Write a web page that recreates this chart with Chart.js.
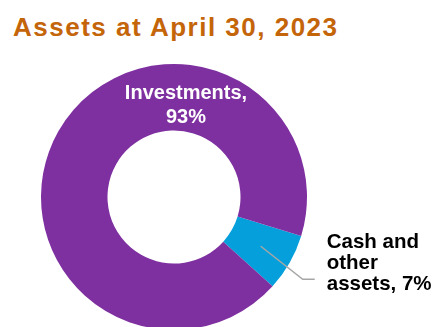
<!DOCTYPE html>
<html>
<head>
<meta charset="utf-8">
<script src="https://cdn.jsdelivr.net/npm/chart.js@4"></script>
<style>
  html, body { margin: 0; padding: 0; background: #fff; overflow: hidden; width: 434px; height: 327px; }
  #title { position: absolute; left: 13px; top: 14px; font: bold 26px "Liberation Sans", Arial, sans-serif; line-height: 26px; letter-spacing: 1.5px; color: #C4650A; white-space: nowrap; }
  #wrap { position: absolute; left: 0; top: 0; width: 434px; height: 332px; }
</style>
</head>
<body>
<div id="title">Assets at April 30, 2023</div>
<div id="wrap"><canvas id="c"></canvas></div>
<script>
const categories = ["Cash and other assets", "Investments"];
const values = [7, 93];
const labelLines = [["Cash and", "other", "assets, 7%"], ["Investments,", "93%"]];
const colors = ["#05A0DC", "#7F30A0"];

const labelPlugin = {
  id: 'sliceLabels',
  afterDatasetsDraw(chart) {
    const ctx = chart.ctx;
    const meta = chart.getDatasetMeta(0);
    const cash = meta.data[0];
    const inv = meta.data[1];
    ctx.save();
    ctx.font = 'bold 20px "Liberation Sans", Arial, sans-serif';
    // Investments label (white, inside ring at top)
    ctx.fillStyle = '#ffffff';
    ctx.textAlign = 'center';
    ctx.textBaseline = 'alphabetic';
    const ix = inv.x + 12;
    const iy = inv.y - inv.outerRadius + 35;
    labelLines[1].forEach((t, i) => ctx.fillText(t, ix, iy + i * 24));
    // Cash leader line
    const p = cash.tooltipPosition();
    ctx.strokeStyle = '#A6A6A6';
    ctx.lineWidth = 1.5;
    ctx.beginPath();
    ctx.moveTo(p.x, p.y);
    ctx.lineTo(p.x + 42, p.y + 33);
    ctx.lineTo(p.x + 54, p.y + 33);
    ctx.stroke();
    // Cash label
    ctx.font = 'bold 20.5px "Liberation Sans", Arial, sans-serif';
    ctx.fillStyle = '#000000';
    ctx.textAlign = 'left';
    const cx = p.x + 66;
    const cy = p.y + 2;
    labelLines[0].forEach((t, i) => ctx.fillText(t, cx, cy + i * 21));
    ctx.restore();
  }
};

new Chart(document.getElementById('c'), {
  type: 'doughnut',
  data: {
    labels: categories,
    datasets: [{
      data: values,
      backgroundColor: colors,
      borderWidth: 0,
      hoverOffset: 0
    }]
  },
  options: {
    responsive: true,
    maintainAspectRatio: false,
    animation: false,
    cutout: '50%',
    rotation: 107,
    layout: { padding: { top: 64, bottom: 2, left: 41, right: 127 } },
    plugins: {
      legend: { display: false },
      tooltip: { enabled: false },
      title: { display: false }
    }
  },
  plugins: [labelPlugin]
});
</script>
</body>
</html>
